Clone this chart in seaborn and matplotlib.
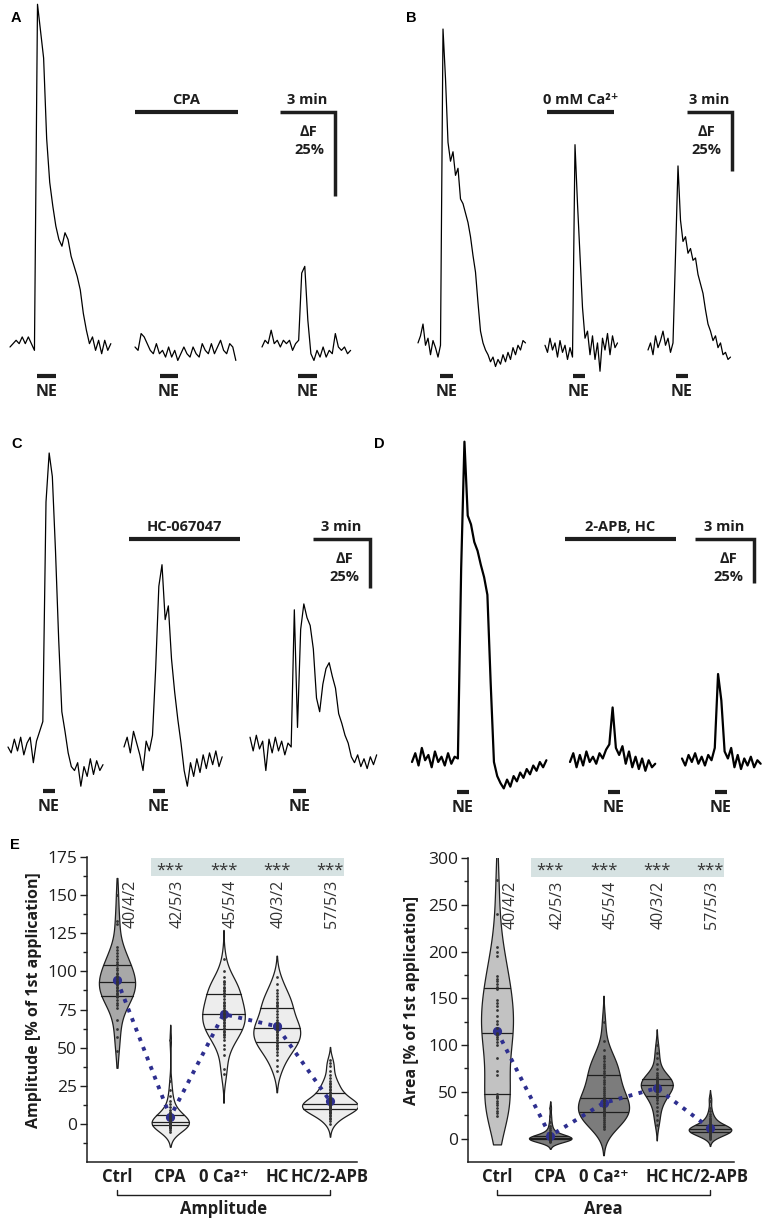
import numpy as np
import matplotlib.pyplot as plt
import seaborn as sns

# --- Ca2+ izləri: ΔF (%), 10 s addımla ---
DT = 10
tr_a1 = [0, 1, 2, 1, 3, 1, 3, 1, -1, 102, 94, 86, 62, 49, 42, 36, 32, 30, 34, 32, 27, 24, 21, 17,
         10, 5, 1, 3, -1, 2, -2, 2, -1, 1]
tr_a2 = [0, -1, 4, 3, 1, -1, -2, 1, -2, -1, -3, 0, -3, -1, -4, -2, 0, -2, -3, 0, -2, -3, 1, -1,
         -2, 1, -2, 0, 2, -1, -2, 1, 0, -4]
tr_a3 = [0, 2, 1, 5, 1, 2, 0, 2, 1, 2, -1, 1, 2, 22, 24, 8, -2, -4, -1, -3, 0, -3, -1, -2, 4, 0,
         -1, 0, -2, -1]
tr_b1 = [3, 6, 11, 2, 5, -2, 4, 1, -3, 2, 136, 115, 88, 80, 84, 74, 77, 64, 62, 58, 54, 48, 40,
         33, 20, 8, 3, 0, -2, -5, -3, -7, -4, -6, -2, -5, -1, -4, 1, -2, 2, 0, 4, 3]
tr_b2 = [2, -1, 5, 0, 3, -3, 4, -1, 2, -4, 1, -3, 87, 62, 40, 18, 5, 8, -2, 6, -4, 3, -9, 5, 0,
         7, -2, 6, 1, 3]
tr_b3 = [0, 3, -2, 6, 1, 4, 8, 2, 5, -1, 3, 40, 78, 55, 46, 48, 41, 43, 38, 39, 32, 28, 24, 17,
         11, 8, 4, 6, 1, 3, -2, -1, -4, -3]
tr_c1 = [0, -3, 4, -2, 5, -4, 2, 5, -8, 3, 8, 13, 125, 150, 138, 100, 55, 18, 8, -3, -10, -12,
         -8, -20, -10, -15, -6, -14, -7, -12, -9]
tr_c2 = [0, 5, -3, 8, 2, -4, -12, 3, -2, 6, 40, 82, 93, 65, 72, 45, 28, 14, 2, -12, -20, -8, -15,
         -6, -13, -4, -11, -3, -9, -2, -10, -5]
tr_c3 = [5, -2, 6, -1, 3, -12, 4, -3, 5, -2, 3, -4, 2, 0, 70, 10, 60, 73, 66, 62, 50, 25, 18, 32,
         40, 43, 36, 30, 17, 12, 6, 2, -5, -8, -4, -10, -6, -11, -5, -9, -4]
tr_d1 = [0, 5, -2, 8, 1, 4, -3, 6, 0, 3, -2, 5, -1, 3, 2, 110, 182, 140, 135, 125, 120, 112, 105,
         95, 45, 0, -8, -12, -15, -10, -14, -8, -11, -6, -9, -4, -7, -2, -5, 0, -3, 1]
tr_d2 = [0, 5, -3, 4, -2, 6, 0, 3, -1, 5, 2, 7, 10, 31, 8, 4, 9, -1, 6, -3, 3, -4, 2, -5, 1, -3, -1]
tr_d3 = [2, -2, 4, 0, 5, -1, 3, -2, 4, 1, 8, 50, 35, 6, 2, 8, -3, 4, -4, 2, -2, 3, -3, 1, -1]

# --- E: 1-ci tətbiqin %-i ---
conds = ["Ctrl", "CPA", "0 Ca²⁺", "HC", "HC/2-APB"]
amp_ctrl = [48, 57, 62, 68, 76, 78, 79, 81, 83, 84, 84, 85, 86, 87, 88, 89, 90, 91, 92, 93, 93, 94,
            95, 96, 97, 98, 99, 101, 102, 104, 105, 106, 108, 110, 112, 114, 116, 131, 133, 150]
amp_cpa = [-5, -4, -3, -3, -2, -2, -2, -1, -1, -1, -1, 0, 0, 0, 0, 0, 0, 1, 1, 1, 1, 1, 2, 2, 2, 3,
           3, 4, 4, 5, 5, 6, 7, 8, 9, 11, 13, 15, 18, 22, 28, 55]
amp_0ca = [33, 36, 45, 49, 52, 55, 57, 58, 59, 60, 61, 62, 63, 64, 65, 66, 67, 68, 69, 70, 71, 72,
           72, 73, 74, 75, 76, 77, 78, 79, 80, 82, 84, 85, 86, 87, 88, 89, 90, 92, 93, 94, 96, 100, 108]
amp_hc = [35, 38, 42, 45, 47, 49, 50, 51, 52, 53, 54, 55, 56, 57, 58, 59, 60, 61, 62, 63, 63, 64,
          65, 66, 67, 68, 70, 72, 74, 76, 77, 78, 79, 80, 82, 84, 86, 88, 92, 96]
amp_hc2apb = [0, 2, 3, 4, 5, 6, 7, 7, 8, 8, 9, 9, 9, 10, 10, 10, 10, 11, 11, 11, 11, 12, 12, 12, 12,
              12, 13, 13, 13, 13, 14, 14, 14, 15, 15, 16, 16, 17, 17, 18, 19, 20, 20, 21, 22, 23, 24,
              25, 26, 27, 28, 30, 32, 35, 38, 40, 42]
area_ctrl = [24, 27, 30, 33, 36, 38, 40, 43, 45, 46, 48, 68, 72, 86, 100, 103, 106, 109, 111, 112,
             113, 118, 122, 126, 131, 137, 142, 145, 148, 160, 162, 165, 168, 171, 174, 195, 200,
             205, 240, 276]
area_cpa = [-4, -3, -3, -2, -2, -2, -1, -1, -1, -1, -1, 0, 0, 0, 0, 0, 0, 0, 0, 0, 1, 1, 1, 1, 1, 1,
            2, 2, 2, 2, 3, 3, 4, 5, 6, 7, 9, 11, 14, 18, 24, 33]
area_0ca = [10, 12, 14, 16, 18, 20, 22, 24, 25, 26, 27, 28, 29, 30, 32, 33, 34, 36, 38, 40, 41, 42,
            43, 45, 47, 49, 51, 53, 55, 58, 61, 63, 66, 68, 70, 72, 75, 78, 80, 83, 86, 88, 95, 104, 125]
area_hc = [15, 20, 25, 30, 34, 38, 41, 43, 44, 45, 46, 48, 50, 51, 52, 53, 54, 55, 56, 57, 57, 58,
           59, 59, 60, 61, 61, 62, 62, 63, 64, 65, 66, 68, 70, 74, 80, 86, 92, 100]
area_hc2apb = [0, 1, 2, 3, 3, 4, 4, 5, 5, 6, 6, 6, 6, 7, 7, 7, 8, 8, 8, 8, 9, 9, 9, 9, 10, 10, 10,
               10, 10, 11, 11, 11, 11, 12, 12, 12, 13, 13, 13, 14, 14, 14, 15, 15, 16, 17, 18, 19,
               20, 21, 22, 24, 26, 29, 33, 40, 44]
amp_means = [94.5, 4.5, 72, 64, 15]
area_means = [115, 3, 38, 54, 11]
n_labels = ["40/4/2", "42/5/3", "45/5/4", "40/3/2", "57/5/3"]

W, H = 765, 1222
INK = "#1e1e1e"
BLUE = "#2e2f8f"
BAND = "#d6e2e2"

sns.set_style("white")
plt.rcParams["font.family"] = ["Open Sans", "DejaVu Sans"]

fig = plt.figure(figsize=(W / 100, H / 100), dpi=100)


def ftxt(x, y, s, size=10.5, **kw):
    fig.text(x / W, 1 - y / H, s, ha="center", va="center", fontsize=size,
             fontweight="bold", color=INK, **kw)


def trace_panel(letter, lpos, box, min_px, pct_px, base, traces, starts, ne_bars, ne_y,
                treat, corner, lw):
    left, top, right, bottom = box
    spp, ppp = 180 / min_px, 25 / pct_px
    ax = fig.add_axes([left / W, 1 - bottom / H, (right - left) / W, (bottom - top) / H])
    ax.set_xlim(0, (right - left) * spp)
    ax.set_ylim((base - bottom) * ppp, (base - top) * ppp)
    ax.axis("off")
    tx = lambda x: (x - left) * spp
    ty = lambda y: (base - y) * ppp

    for vals, s in zip(traces, starts):
        t = tx(s) + DT * np.arange(len(vals))
        sns.lineplot(x=t, y=vals, ax=ax, color="black", linewidth=lw, estimator=None, sort=False)

    for x0, x1 in ne_bars:
        ax.plot([tx(x0), tx(x1)], [ty(ne_y)] * 2, color=INK, lw=3, solid_capstyle="butt")
        ftxt((x0 + x1) / 2, ne_y + 16, "NE", size=11.5)

    x0, x1, yb, label = treat
    ax.plot([tx(x0), tx(x1)], [ty(yb)] * 2, color=INK, lw=3, solid_capstyle="butt")
    ftxt((x0 + x1) / 2, yb - 12, label)

    # skala: 3 dəq x 25 %
    cx, cy = corner
    ax.plot([tx(cx) - 180, tx(cx), tx(cx)], [ty(cy), ty(cy), ty(cy) - 25], color=INK, lw=2.5,
            solid_joinstyle="miter", solid_capstyle="butt")
    ftxt(cx - min_px / 2, cy - 12, "3 min")
    ftxt(cx - 26, cy + 20, "∆F")
    ftxt(cx - 26, cy + 38, "25%")

    fig.text(lpos[0] / W, 1 - lpos[1] / H, letter, ha="center", va="center", fontsize=10.5,
             fontweight="bold", family="Liberation Sans", color="black")


trace_panel("A", (16, 18), (0, 0, 380, 420), 55, 84, 347, [tr_a1, tr_a2, tr_a3], [10, 135, 262],
            [(37, 56), (160, 178), (298, 317)], 376, (135, 238, 112, "CPA"), (335, 112), 0.9)
trace_panel("B", (411, 18), (385, 0, 765, 420), 45, 59, 350, [tr_b1, tr_b2, tr_b3], [418, 545, 648],
            [(440, 453), (573, 585), (676, 688)], 376, (547, 614, 112, "0 mM Ca²⁺"), (732, 112), 0.9)
trace_panel("C", (17, 444), (0, 430, 380, 830), 57, 49, 747, [tr_c1, tr_c2, tr_c3], [8, 124, 250],
            [(43, 55), (153, 165), (293, 306)], 791, (129, 240, 539, "HC-067047"), (370, 539), 0.9)
trace_panel("D", (379, 444), (385, 430, 765, 830), 59, 44, 762, [tr_d1, tr_d2, tr_d3],
            [412, 570, 682], [(457, 469), (608, 620), (715, 727)], 792,
            (565, 676, 539, "2-APB, HC"), (754, 539), 1.6)


def violin_panel(box, ctrl_px, groups, means, fills, widths, cuts, ylim, yticks, yminor,
                 band, star_y, lab_off, lab_top, ylabel, ylab_x, xlabel):
    left, top, right, bottom = box
    h = bottom - top
    ax = fig.add_axes([left / W, 1 - bottom / H, (right - left) / W, h / H])
    for c, vals, col, w, cut in zip(conds, groups, fills, widths, cuts):
        sns.violinplot(x=[c] * len(vals), y=vals, order=conds, ax=ax, color=col, saturation=1,
                       width=w, cut=cut, density_norm="width", inner="quart",
                       linecolor=INK, linewidth=0.9)
    for ln in ax.lines:
        ln.set_linestyle("-")
    xs = np.repeat(conds, [len(v) for v in groups])
    sns.stripplot(x=xs, y=np.concatenate(groups), order=conds, ax=ax, jitter=False,
                  color="#333333", size=2)
    sns.pointplot(x=conds, y=means, order=conds, ax=ax, color=BLUE, markers="o",
                  linestyles=":", markersize=4.5, linewidth=2.8, errorbar=None)

    sp = 53.25
    ax.set_xlim((left - ctrl_px) / sp, (right - ctrl_px) / sp)
    ax.set_ylim(*ylim)
    ax.set_yticks(yticks)
    ax.set_yticks(yminor, minor=True)
    ax.tick_params(axis="y", which="major", length=5, width=1, color=INK, labelsize=12.5,
                   labelcolor=INK, pad=2, left=True)
    ax.tick_params(axis="y", which="minor", length=3, width=1, color=INK, left=True)
    ax.tick_params(axis="x", length=0, pad=4)
    ax.set_xticks(range(len(conds)))
    ax.set_xticklabels(conds, fontsize=12, fontweight="bold", color=INK)
    ax.set_xlabel("")
    ax.set_ylabel("")
    sns.despine(ax=ax)
    for s in ("left", "bottom"):
        ax.spines[s].set_color(INK)
        ax.spines[s].set_linewidth(1.1)

    ax.fill_between([0.63, 4.26], band[0], band[1], color=BAND, lw=0, zorder=0)
    for i in range(1, len(conds)):
        ax.text(i, star_y, "***", ha="center", va="center", fontsize=12, color="#333333")
    for i, (s, off) in enumerate(zip(n_labels, lab_off)):
        ax.text(i + off, lab_top, s, rotation=90, ha="center", va="top", fontsize=11.5,
                color="#333333")

    trans = ax.get_xaxis_transform()
    yb, yt = -(1195 - bottom) / h, -(1190 - bottom) / h
    ax.plot([0, 0, 4, 4], [yt, yb, yb, yt], transform=trans, clip_on=False, color=INK, lw=1)
    ax.text(2, -(1209 - bottom) / h, xlabel, transform=trans, ha="center", va="center",
            fontsize=12, fontweight="bold", color=INK)
    ax.text((ylab_x - left) / (right - left), (bottom - 1000) / h, ylabel, transform=ax.transAxes,
            rotation=90, ha="center", va="center", fontsize=11.5, fontweight="bold", color=INK)
    return ax


violin_panel((87, 857, 357, 1162), 117, [amp_ctrl, amp_cpa, amp_0ca, amp_hc, amp_hc2apb],
             amp_means, ["#a8a8a8", "#ededed", "#ededed", "#ededed", "#ededed"],
             [0.68, 0.70, 0.80, 0.88, 1.05], [1.2, 2, 2.5, 2, 2], (-25, 175),
             range(0, 176, 25), np.arange(-12.5, 175, 25), (162.5, 174.5), 166,
             [0.26, 0.13, 0.13, 0.03, 0.03], 160, "Amplitude [% of 1st application]", 34,
             "Amplitude")
violin_panel((468, 858, 734, 1162), 497, [area_ctrl, area_cpa, area_0ca, area_hc, area_hc2apb],
             area_means, ["#c2c2c2", "#7c7c7c", "#7c7c7c", "#7c7c7c", "#7c7c7c"],
             [0.60, 0.80, 0.96, 0.60, 0.80], [1.0, 2, 2.2, 2, 2], (-25, 300),
             range(0, 301, 50), np.arange(25, 300, 50), (280, 299.5), 287,
             [0.26, 0.13, 0.13, 0.04, 0.04], 276, "Area [% of 1st application]", 412, "Area")

fig.text(15 / W, 1 - 845 / H, "E", ha="center", va="center", fontsize=10.5, fontweight="bold",
         family="Liberation Sans", color="black")

fig.savefig("out.png", dpi=100)
